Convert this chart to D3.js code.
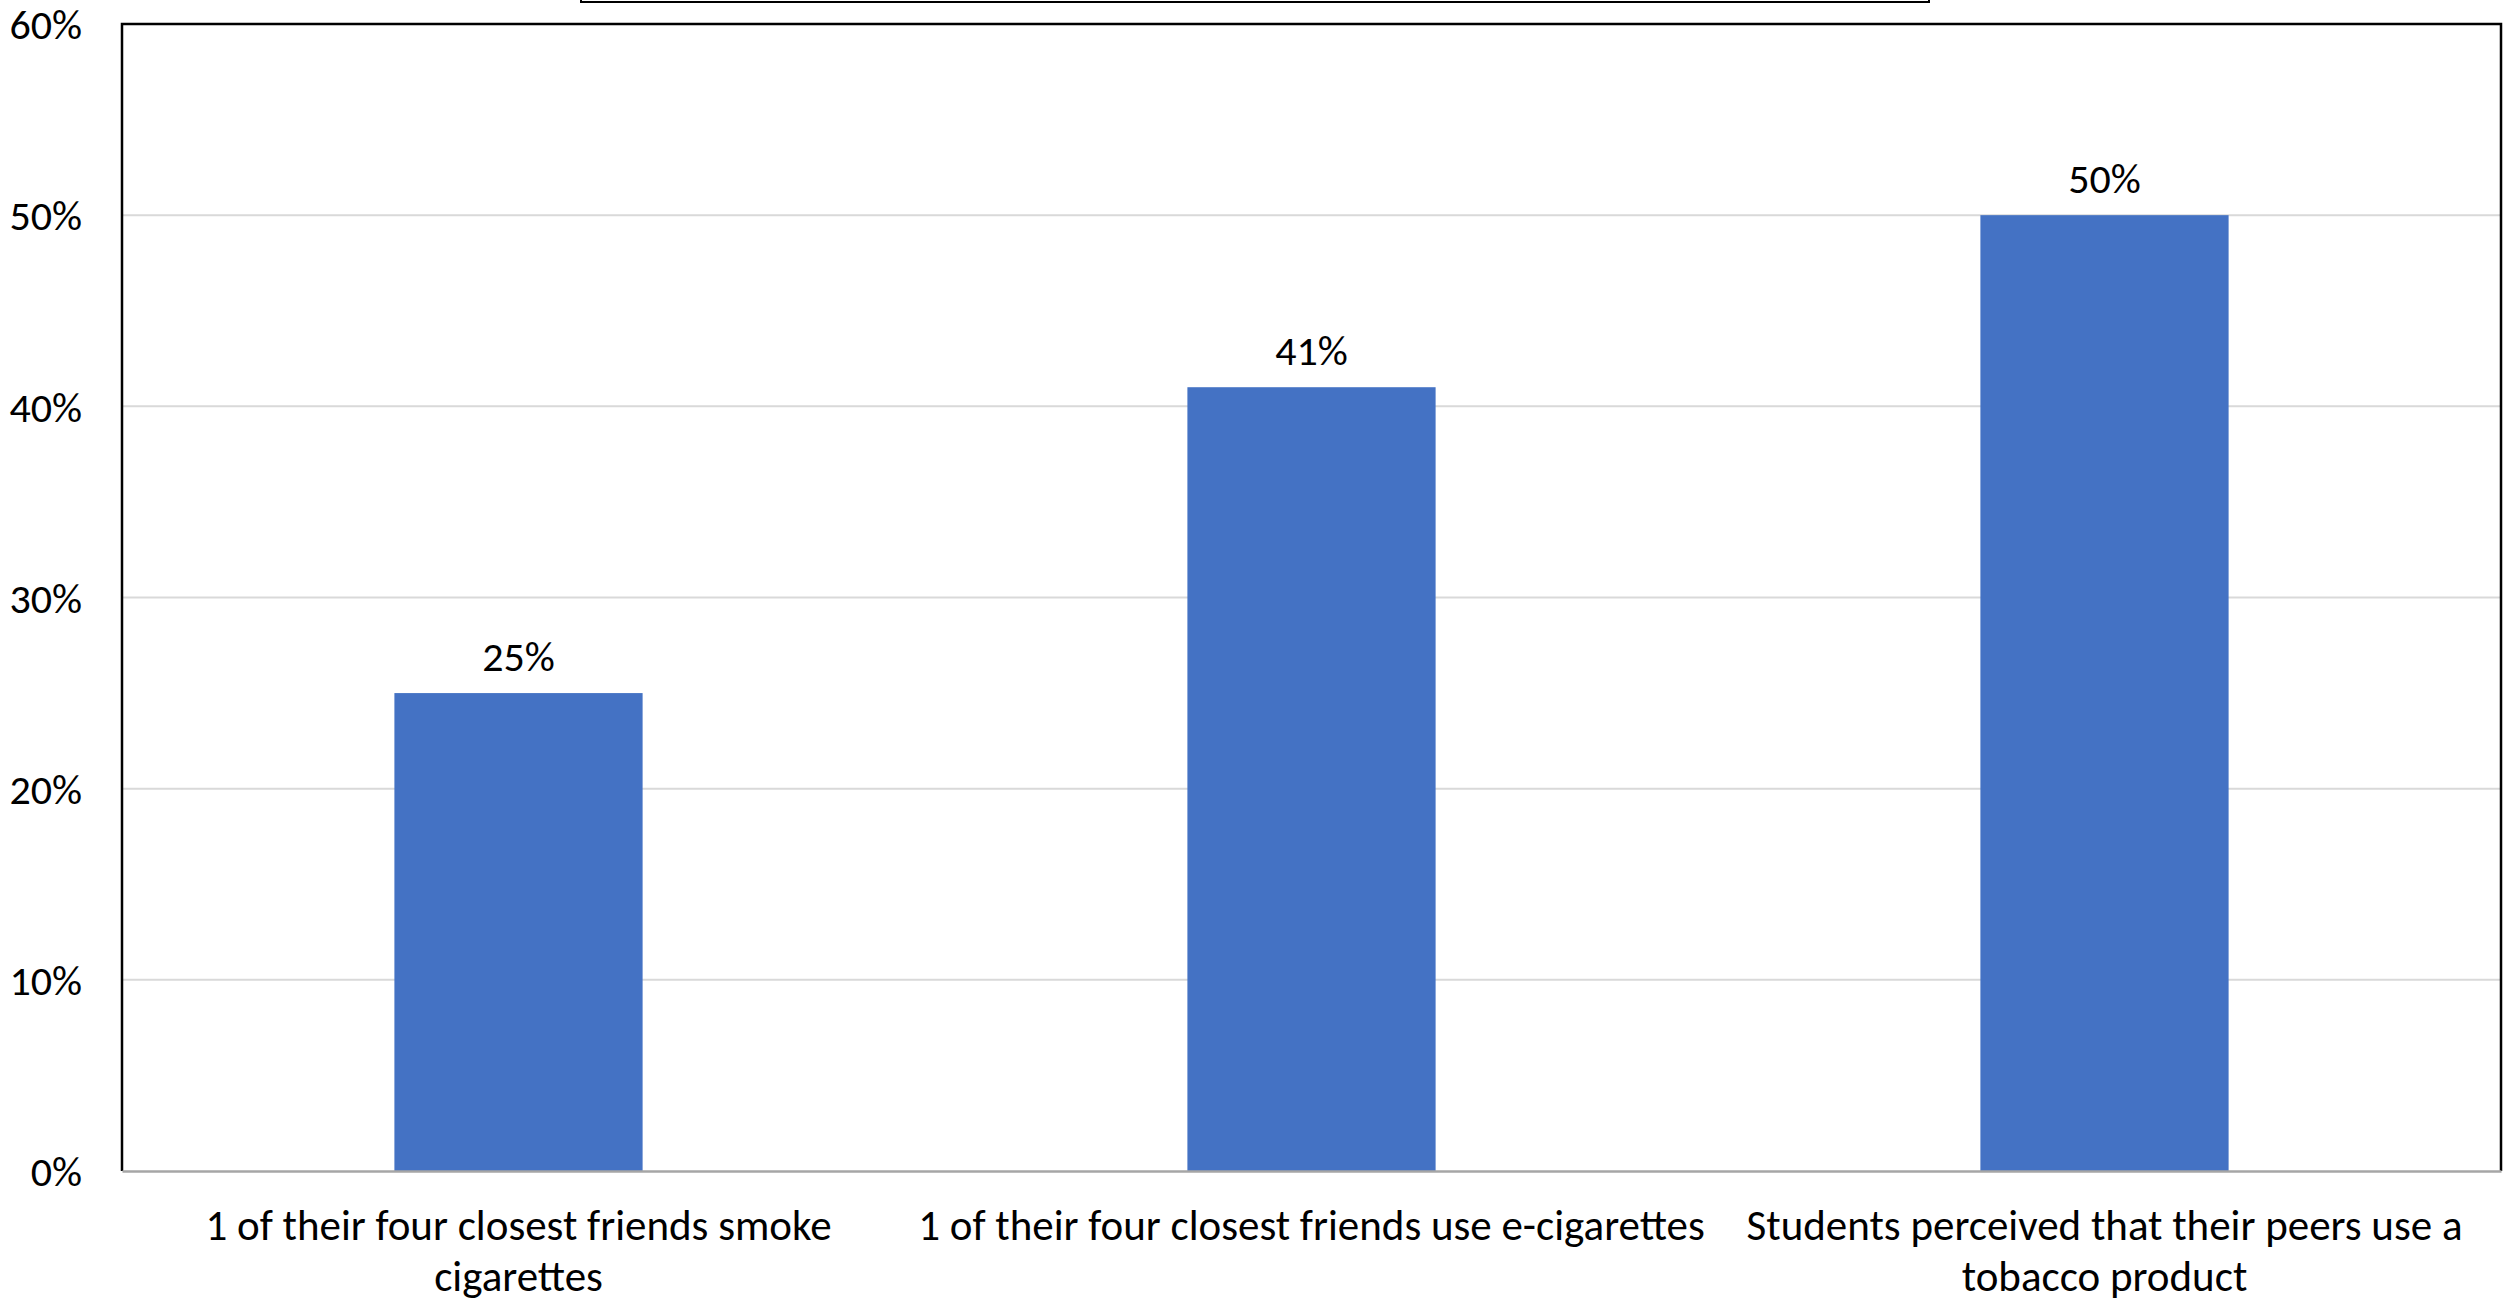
<!DOCTYPE html>
<html>
<head>
<meta charset="utf-8">
<script src="https://cdn.jsdelivr.net/npm/d3@7"></script>
<style>
  html, body { margin: 0; padding: 0; background: #ffffff; }
  svg { display: block; }
  text { font-family: Carlito, Calibri, Lato, "Open Sans", sans-serif; fill: #000; }
</style>
</head>
<body>
<svg id="chart" width="2509" height="1312"></svg>
<script>
// ---- data ----
const categories = [
  "1 of their four closest friends smoke\ncigarettes",
  "1 of their four closest friends use e-cigarettes",
  "Students perceived that their peers use a\ntobacco product"
];
const values = [25, 41, 50];
const yTicks = [0, 10, 20, 30, 40, 50, 60];
const yTickLabels = ["0%", "10%", "20%", "30%", "40%", "50%", "60%"];

// ---- layout ----
const plot = { left: 122, right: 2501, top: 24, bottom: 1171 };
const fontSize = 42;
const catFontSize = 43;

const svg = d3.select("#chart");

const x = d3.scaleBand()
  .domain(categories)
  .range([plot.left, plot.right])
  .paddingInner(0.687)
  .paddingOuter(0.3435);

const y = d3.scaleLinear().domain([0, 60]).range([plot.bottom, plot.top]);

// title box remnant at the top
svg.append("rect")
  .attr("x", 581).attr("y", -10)
  .attr("width", 1348).attr("height", 12)
  .attr("fill", "#fff").attr("stroke", "#000").attr("stroke-width", 2);

// gridlines
svg.append("g")
  .selectAll("line")
  .data(yTicks.filter(d => d > 0 && d < 60))
  .join("line")
  .attr("x1", plot.left).attr("x2", plot.right)
  .attr("y1", d => y(d)).attr("y2", d => y(d))
  .attr("stroke", "#d9d9d9").attr("stroke-width", 2);

// bars
svg.append("g")
  .selectAll("rect")
  .data(values)
  .join("rect")
  .attr("x", (d, i) => x(categories[i]))
  .attr("y", d => y(d))
  .attr("width", x.bandwidth())
  .attr("height", d => y(0) - y(d))
  .attr("fill", "#4472C4");

// value labels
svg.append("g")
  .selectAll("text")
  .data(values)
  .join("text")
  .attr("x", (d, i) => x(categories[i]) + x.bandwidth() / 2)
  .attr("y", d => y(d) - 22)
  .attr("text-anchor", "middle")
  .attr("font-size", fontSize)
  .text(d => d + "%");

// plot frame (left, top, right black)
svg.append("path")
  .attr("d", `M${plot.left},${plot.bottom} V${plot.top} H${plot.right} V${plot.bottom}`)
  .attr("fill", "none").attr("stroke", "#000").attr("stroke-width", 2.5);

// y axis
const yAxis = d3.axisLeft(y)
  .tickValues(yTicks)
  .tickFormat((d, i) => yTickLabels[i])
  .tickSize(0)
  .tickPadding(40);
const gy = svg.append("g").attr("transform", `translate(${plot.left},0)`).call(yAxis);
gy.select(".domain").remove();
gy.selectAll("text")
  .attr("font-size", fontSize)
  .attr("font-family", null)
  .attr("dy", "0.35em");

// x axis
const xAxis = d3.axisBottom(x).tickSize(0).tickFormat("");
const gx = svg.append("g").attr("transform", `translate(0,${plot.bottom})`).call(xAxis);
gx.select(".domain").attr("stroke", "#a6a6a6").attr("stroke-width", 2.5);

// category labels (multi-line)
gx.selectAll(".tick").each(function(d) {
  const t = d3.select(this).append("text")
    .attr("text-anchor", "middle")
    .attr("font-size", catFontSize)
    .attr("y", 69);
  d.split("\n").forEach((line, j) => {
    t.append("tspan").attr("x", 0).attr("dy", j === 0 ? 0 : 51).text(line);
  });
});
</script>
</body>
</html>
